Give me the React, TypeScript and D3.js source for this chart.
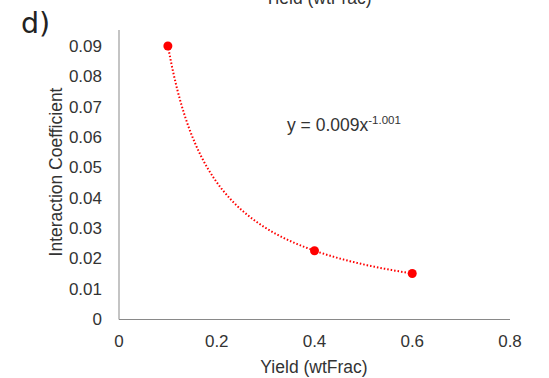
import React from "react";
import * as d3 from "d3";

const xValues = [0.1, 0.4, 0.6];
const yValues = [0.09, 0.0225, 0.015];
const xTicks = [0, 0.2, 0.4, 0.6, 0.8];
const yTicks = [0, 0.01, 0.02, 0.03, 0.04, 0.05, 0.06, 0.07, 0.08, 0.09];
const fitA = 0.009;
const fitB = -1.001;

export default function App() {
  const W = 549, H = 378;
  const x = d3.scaleLinear().domain([0, 0.8]).range([119, 510]);
  const y = d3.scaleLinear().domain([0, 0.09]).range([319, 46]);
  const fitXs = d3.range(0, 201).map((i) => 0.1 + (0.5 * i) / 200);
  const line = d3
    .line<number>()
    .x((d) => x(d))
    .y((d) => y(fitA * Math.pow(d, fitB)));
  const font = "'Liberation Sans', Arial, sans-serif";
  return (
    <svg width={W} height={H} style={{ position: "absolute", left: 0, top: 0, background: "#fff" }}>
      <text x={318} y={4} textAnchor="middle" fontFamily={font} fontSize={17.5} fill="#333">Yield (wtFrac)</text>
      <text x={21} y={33} fontFamily="'DejaVu Sans', sans-serif" fontSize={28.5} fill="#222">d)</text>
      <line x1={119} x2={119} y1={30} y2={319.5} stroke="#898989" strokeWidth={1} />
      <line x1={119} x2={510} y1={319.5} y2={319.5} stroke="#898989" strokeWidth={1} />
      {yTicks.map((t) => (
        <text key={t} x={102} y={y(t) + 6} textAnchor="end" fontFamily={font} fontSize={17} fill="#333">
          {t === 0 ? "0" : t.toFixed(2)}
        </text>
      ))}
      {xTicks.map((t) => (
        <text key={t} x={x(t)} y={347} textAnchor="middle" fontFamily={font} fontSize={17} fill="#333">
          {t === 0 ? "0" : String(t)}
        </text>
      ))}
      <text x={314} y={373} textAnchor="middle" fontFamily={font} fontSize={17.5} fill="#333">Yield (wtFrac)</text>
      <text transform="translate(62,172) rotate(-90)" textAnchor="middle" fontFamily={font} fontSize={17.5} fill="#333">Interaction Coefficient</text>
      <path d={line(fitXs) || ""} fill="none" stroke="#ff0000" strokeWidth={2} strokeDasharray="1.5 2" />
      {xValues.map((v, i) => (
        <circle key={i} cx={x(v)} cy={y(yValues[i])} r={4.5} fill="#ff0000" />
      ))}
      <text x={287} y={131} fontFamily={font} fontSize={17.5} fill="#333">
        y = 0.009x<tspan dy={-7} fontSize={11.5}>-1.001</tspan>
      </text>
    </svg>
  );
}
